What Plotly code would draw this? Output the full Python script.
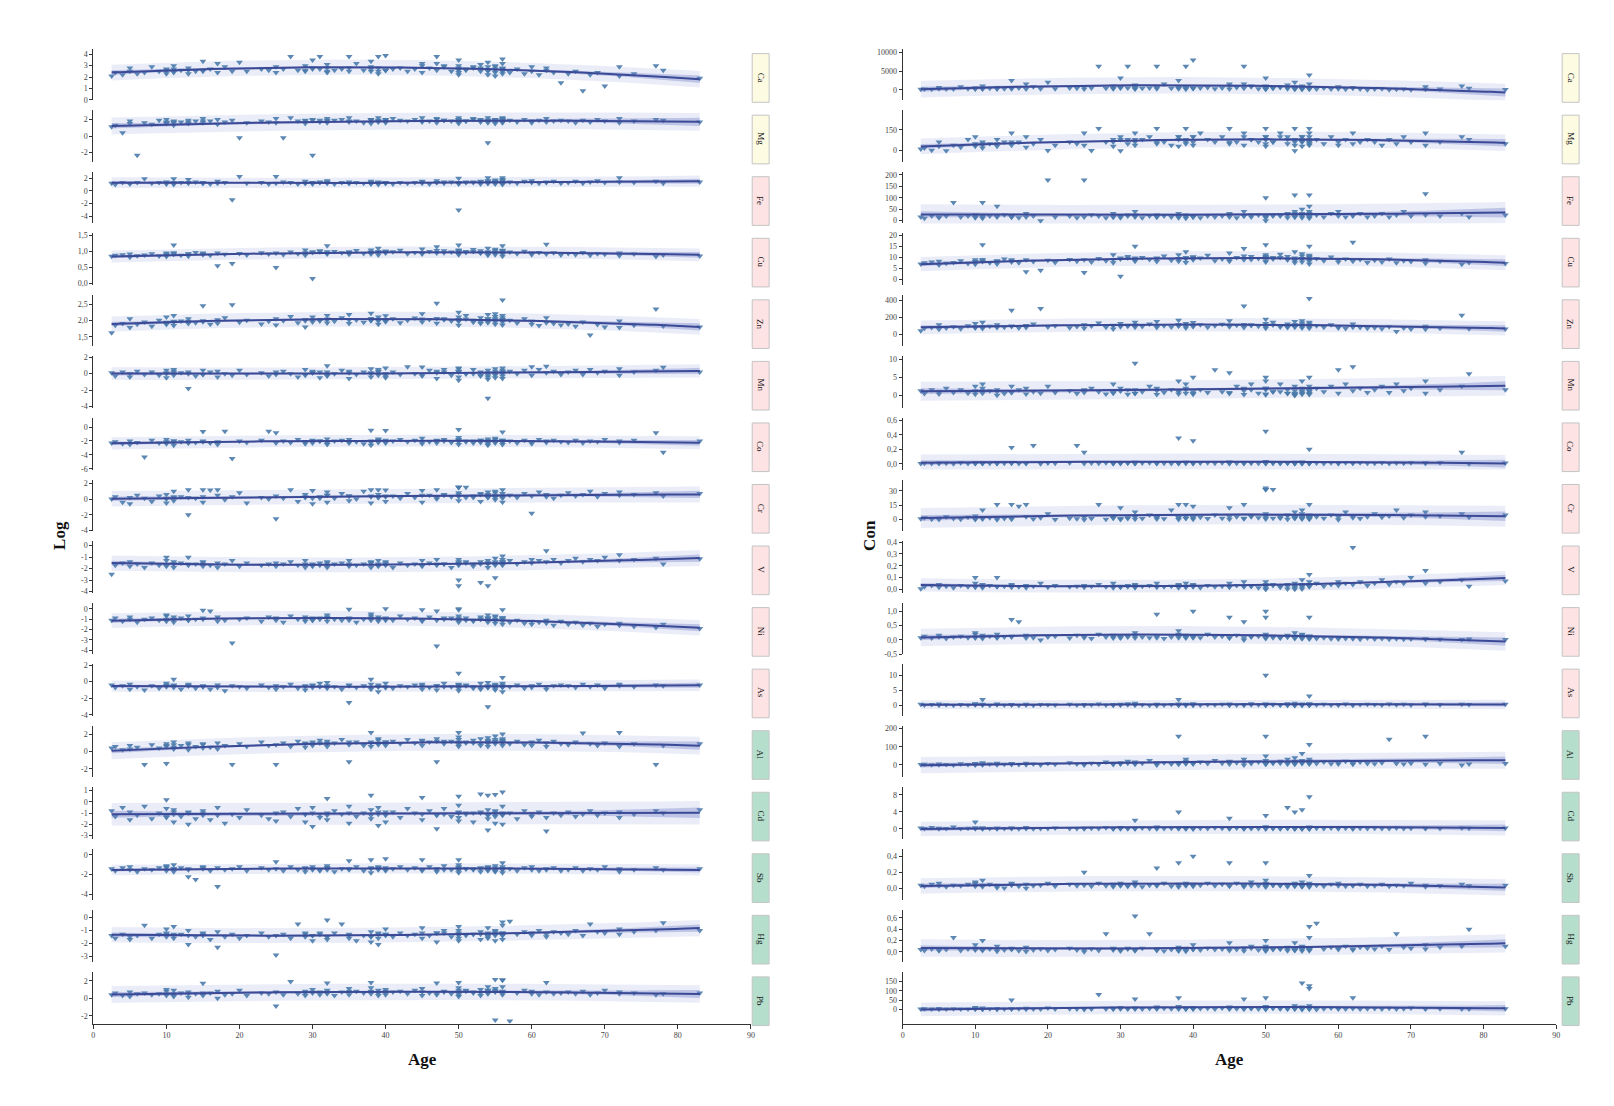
import numpy as np
import plotly.graph_objects as go

# element order (top to bottom) and strip colour group
elements = ["Ca", "Mg", "Fe", "Cu", "Zn", "Mn", "Co", "Cr",
            "V", "Ni", "As", "Al", "Cd", "Sb", "Hg", "Pb"]
groups = ["macro", "macro", "ess", "ess", "ess", "ess", "ess", "ess",
          "ess", "ess", "ess", "tox", "tox", "tox", "tox", "tox"]
strip_fill = {"macro": "#fdfbe2", "ess": "#fde3e3", "tox": "#b5dfcc"}

# sample ages (one per sample, same samples in every facet)
age = [2.5, 3, 4, 5, 5, 6, 7, 8, 9, 10,
       10, 10, 11, 11, 11, 12, 13, 13, 14, 15,
       15, 16, 17, 17, 18, 19, 20, 21, 23, 24,
       25, 25, 26, 27, 28, 29, 29, 30, 30, 31,
       32, 32, 32, 33, 34, 35, 35, 36, 37, 38,
       38, 38, 39, 39, 39, 40, 40, 41, 42, 43,
       44, 45, 45, 46, 47, 47, 48, 49, 50, 50,
       50, 50, 50, 51, 52, 53, 53, 54, 54, 54,
       54, 55, 55, 55, 55, 56, 56, 56, 56, 56,
       57, 58, 59, 60, 60, 61, 62, 62, 63, 64,
       65, 66, 67, 68, 69, 70, 72, 72, 74, 77,
       78, 83, 56, 55, 54, 50, 40, 11, 32, 47,
       29, 30, 38, 39, 45, 50, 53, 55, 56, 10,
       13, 15, 31, 35, 40, 48, 51, 54, 56, 52]

# log10 concentrations
log_ca = [2.1, 2.4, 2.2, 2.5, 2.8, 2.3, 2.4, 2.9, 2.5, 2.6,
          2.3, 2.7, 2.5, 3.0, 2.4, 2.6, 2.3, 2.8, 2.5, 3.4,
          2.6, 2.7, 3.2, 2.4, 2.9, 2.5, 3.3, 2.5, 2.7, 2.6,
          2.9, 2.4, 2.7, 3.8, 2.6, 3.0, 2.5, 2.7, 3.5, 3.8,
          2.8, 2.4, 3.1, 2.6, 2.7, 3.8, 2.5, 3.2, 2.6, 2.9,
          3.4, 2.5, 2.8, 3.8, 2.3, 2.6, 3.9, 2.7, 2.8, 2.5,
          2.7, 3.0, 2.4, 2.8, 3.8, 2.6, 2.9, 2.5, 3.5, 2.2,
          2.7, 3.0, 2.4, 2.6, 2.8, 3.1, 2.5, 2.2, 2.9, 3.3,
          2.6, 2.4, 3.0, 2.7, 2.1, 2.8, 3.2, 2.5, 2.3, 3.6,
          2.4, 2.7, 2.3, 2.5, 2.9, 2.2, 2.6, 2.8, 2.4, 1.5,
          2.3, 2.5, 0.8, 2.2, 2.4, 1.2, 2.9, 2.1, 2.3, 3.0,
          2.6, 1.9, 2.7, 2.9, 2.5, 2.8, 2.6, 2.7, 2.5, 3.2,
          2.6, 2.8, 2.7, 2.5, 3.2, 2.6, 2.8, 2.6, 2.7, 2.5,
          2.6, 2.5, 2.7, 2.8, 2.6, 3.0, 2.7, 2.6, 2.5, 2.9]
log_mg = [1.1, 1.3, 0.4, 1.5, 1.8, -2.3, 1.6, 1.4, 1.9, 1.7,
          1.5, 2.0, 1.6, 1.8, 1.3, 1.7, 1.9, 1.5, 1.8, 2.1,
          1.6, 1.8, 1.4, 2.0, 1.7, 1.9, -0.2, 1.6, 1.8, 1.7,
          2.1, 1.6, -0.2, 2.2, 1.8, 1.9, 1.5, -2.3, 2.0, 1.7,
          2.1, 1.8, 1.6, 1.9, 2.0, 1.7, 2.2, 1.8, 1.6, 2.0,
          1.9, 1.5, 2.2, 1.8, 1.7, 2.0, 1.6, 2.1, 1.9, 1.8,
          2.0, 1.7, 2.2, 1.8, 2.1, 1.6, 1.9, 1.8, 2.2, 1.7,
          2.0, 1.5, 1.9, 1.8, 2.1, 1.7, 2.0, -0.8, 1.9, 2.2,
          1.6, 1.8, 2.0, 1.5, 1.9, 2.1, 1.7, 1.8, 2.2, 1.6,
          1.9, 1.7, 2.0, 1.8, 1.6, 1.9, 2.1, 1.7, 1.8, 1.9,
          1.8, 1.6, 1.9, 1.7, 2.0, 1.8, 2.1, 1.6, 1.8, 2.0,
          1.9, 1.7, 1.9, 2.0, 1.8, 1.9, 1.8, 1.7, 1.9, 2.0,
          1.8, 1.9, 2.0, 1.9, 1.8, 2.0, 1.9, 1.8, 2.0, 1.6,
          1.7, 1.8, 1.9, 1.8, 2.0, 1.9, 1.8, 1.9, 1.8, 2.0]
log_fe = [1.2, 1.0, 1.3, 1.2, 1.1, 1.3, 1.9, 1.2, 1.3, 1.4,
          1.1, 1.3, 1.9, 1.2, 1.0, 1.3, 1.8, 1.2, 1.4, 1.2,
          1.3, 1.1, 1.5, 1.2, 1.3, -1.4, 2.25, 1.2, 1.3, 1.1,
          2.25, 1.2, 1.4, 1.3, 1.1, 1.5, 1.2, 1.3, 1.1, 1.4,
          1.6, 1.2, 1.3, 1.1, 1.3, 1.4, 1.2, 1.3, 1.2, 1.5,
          1.1, 1.3, 1.2, 1.4, 1.0, 1.3, 1.2, 1.1, 1.3, 1.2,
          1.3, 1.2, 1.5, 1.1, 1.3, 1.6, 1.2, 1.4, 2.0, 1.1,
          1.3, -3.0, 1.2, 1.4, 1.3, 1.5, 1.1, 2.05, 1.3, 1.6,
          1.2, 1.4, 1.1, 1.7, 1.3, 2.05, 1.2, 1.5, 1.0, 1.3,
          1.4, 1.2, 1.5, 1.3, 1.6, 1.2, 1.4, 1.3, 1.5, 1.2,
          1.3, 1.5, 1.2, 1.4, 1.6, 1.3, 2.07, 1.4, 1.3, 1.5,
          1.2, 1.4, 1.3, 1.4, 1.2, 1.3, 1.2, 1.3, 1.4, 1.3,
          1.2, 1.3, 1.2, 1.3, 1.4, 1.3, 1.4, 1.5, 1.8, 1.2,
          1.3, 1.2, 1.3, 1.2, 1.3, 1.4, 1.3, 1.5, 1.6, 1.4]
log_cu = [0.85, 0.88, 0.90, 0.82, 0.92, 0.87, 0.89, 0.93, 0.86, 0.95,
          0.90, 0.84, 1.20, 0.91, 0.96, 0.88, 0.92, 0.85, 0.97, 0.90,
          0.93, 0.88, 0.55, 0.95, 0.91, 0.62, 0.94, 0.89, 0.96, 0.92,
          0.50, 0.95, 0.90, 0.98, 0.93, 1.05, 0.88, 0.15, 0.97, 1.02,
          1.18, 0.95, 0.92, 1.00, 0.96, 0.99, 0.91, 1.03, 0.94, 0.98,
          1.05, 0.92, 1.10, 0.97, 0.89, 1.01, 0.95, 0.99, 1.04, 0.93,
          0.97, 1.08, 0.92, 1.00, 1.15, 0.95, 1.02, 0.98, 1.20, 0.90,
          1.05, 0.93, 1.00, 0.97, 1.06, 0.95, 1.02, 0.88, 1.10, 0.99,
          0.94, 1.03, 0.90, 0.97, 1.07, 1.18, 0.92, 1.00, 0.85, 0.96,
          0.98, 0.93, 1.01, 0.95, 0.90, 0.97, 1.23, 0.92, 0.96, 0.89,
          0.94, 0.90, 0.97, 0.88, 0.93, 0.91, 0.95, 0.87, 0.92, 0.84,
          0.89, 0.86, 1.02, 0.97, 0.95, 1.01, 0.98, 0.93, 0.99, 1.03,
          0.96, 0.99, 0.97, 1.00, 0.95, 1.02, 0.96, 0.98, 1.04, 0.91,
          0.93, 0.95, 0.99, 0.97, 1.01, 0.96, 1.00, 0.94, 0.97, 1.00]
log_zn = [1.62, 1.85, 1.90, 1.78, 2.05, 1.88, 1.95, 1.82, 2.00, 1.92,
          1.87, 2.10, 1.95, 2.15, 1.84, 1.98, 1.90, 2.05, 1.93, 2.45,
          1.96, 1.88, 2.02, 1.91, 2.08, 2.48, 1.94, 2.00, 1.89, 1.97,
          2.05, 1.86, 1.99, 2.12, 1.93, 1.80, 2.03, 1.95, 2.10, 1.98,
          2.15, 1.92, 2.04, 1.97, 2.08, 1.90, 2.18, 2.01, 1.94, 2.06,
          1.99, 2.22, 1.88, 2.10, 2.02, 1.96, 2.14, 2.05, 1.93, 2.00,
          2.07, 1.95, 2.20, 2.03, 2.52, 1.91, 2.05, 1.98, 2.25, 1.85,
          2.10, 1.97, 2.03, 2.15, 1.94, 2.08, 1.90, 2.18, 1.99, 2.05,
          1.93, 2.12, 1.88, 2.02, 2.20, 2.62, 1.95, 2.08, 1.86, 2.15,
          2.00, 1.92, 2.05, 1.88, 1.97, 1.84, 2.08, 1.93, 1.90, 1.86,
          1.89, 1.82, 1.95, 1.55, 1.87, 1.80, 1.98, 1.78, 1.85, 2.35,
          1.83, 1.80, 2.00, 1.96, 2.04, 1.98, 2.03, 1.97, 2.01, 2.06,
          1.99, 2.02, 2.00, 1.98, 2.04, 2.01, 1.96, 2.05, 2.00, 1.94,
          1.97, 1.99, 2.03, 2.01, 1.98, 2.02, 2.04, 1.99, 2.03, 2.00]
log_mn = [0.1, -0.3, 0.2, 0.0, -0.4, 0.3, -0.1, 0.2, -0.2, 0.4,
          0.0, -0.5, 0.3, -0.2, 0.5, 0.1, -1.8, 0.2, -0.3, 0.4,
          -0.1, 0.2, -0.4, 0.3, 0.0, -0.2, 0.4, -0.1, 0.1, -0.3,
          0.2, -0.1, 0.3, 0.0, -0.4, 0.5, -0.2, 0.1, 0.3, -0.5,
          0.95, -0.3, 0.2, 0.0, 0.4, -0.6, 0.3, -0.1, 0.2, 0.6,
          -0.4, 0.1, 0.5, -0.2, 0.3, 0.7, -0.5, 0.2, -0.1, 0.85,
          0.0, 0.8, -0.3, 0.4, 0.1, -0.6, 0.5, -0.2, 0.6, -0.8,
          0.3, -0.4, 0.7, 0.0, 0.5, -0.3, 0.2, -3.0, 0.4, -0.7,
          0.1, 0.6, -0.5, 0.3, -0.2, 0.7, 0.0, -0.6, 0.4, 0.2,
          0.3, 0.0, 0.4, 0.85, -0.2, 0.5, 0.9, 0.1, 0.3, -0.1,
          0.2, 0.4, -0.1, 0.5, 0.1, 0.3, 0.6, -0.2, 0.2, 0.4,
          0.78, 0.2, -0.3, 0.1, -0.4, 0.2, 0.0, 0.1, -0.2, 0.3,
          -0.1, 0.1, 0.0, 0.2, -0.1, 0.3, -0.2, 0.0, 0.2, 0.1,
          0.0, -0.1, 0.2, 0.1, -0.3, 0.2, 0.0, -0.2, 0.1, 0.0]
log_co = [-2.3, -2.1, -2.4, -2.0, -2.5, -2.2, -4.3, -1.9, -2.3, -2.1,
          -2.4, -1.8, -2.2, -2.0, -2.6, -2.1, -2.3, -1.9, -2.2, -0.65,
          -2.0, -2.3, -2.1, -2.5, -0.6, -4.5, -2.0, -2.2, -1.9, -0.6,
          -0.8, -2.3, -2.0, -2.2, -1.8, -2.4, -2.1, -1.9, -2.3, -2.0,
          -1.7, -2.2, -2.5, -2.0, -1.9, -2.3, -1.8, -2.1, -2.4, -0.45,
          -2.0, -2.6, -1.9, -2.2, -1.7, -0.5, -2.3, -2.0, -1.8, -2.1,
          -1.9, -2.4, -1.6, -2.1, -2.0, -2.3, -1.8, -2.2, -0.35, -2.5,
          -1.8, -2.1, -1.5, -2.0, -2.3, -1.9, -2.2, -1.7, -2.4, -2.0,
          -2.6, -1.8, -2.1, -1.6, -2.3, -0.7, -2.0, -2.5, -1.9, -2.2,
          -2.0, -2.3, -1.9, -2.1, -2.4, -1.8, -2.2, -2.0, -1.9, -2.1,
          -2.2, -1.9, -2.3, -2.0, -2.1, -1.8, -2.2, -2.0, -1.9, -0.8,
          -3.6, -2.0, -2.1, -2.0, -2.2, -1.9, -2.1, -2.0, -2.2, -1.9,
          -2.1, -2.0, -2.2, -1.9, -2.1, -2.0, -1.9, -2.1, -2.0, -2.2,
          -2.2, -2.1, -2.0, -2.1, -1.9, -2.0, -2.1, -2.0, -1.9, -2.0]
log_cr = [0.0, 0.3, -0.4, 0.2, -0.6, 0.5, 0.1, -0.3, 0.4, 0.0,
          0.6, -0.5, 0.2, 1.0, -0.2, 0.3, -2.0, 1.2, 0.1, 1.2,
          -0.4, 1.15, 0.5, 1.2, -0.1, 0.3, 0.8, -0.5, 0.2, 0.0,
          -2.5, 0.4, 0.1, 1.2, -0.3, 0.6, 0.2, -0.6, 1.1, 0.3,
          0.5, -0.4, 0.9, 0.1, 0.7, -0.2, 0.4, 0.0, 1.0, 1.2,
          0.3, -0.5, 1.2, 0.2, 0.6, 1.15, -0.3, 0.4, 0.1, 0.7,
          0.2, 1.1, -0.4, 0.5, 1.2, 0.0, 0.6, 0.3, 1.5, 1.52,
          1.5, -0.2, 0.8, 1.5, 0.4, 0.7, -0.3, 0.5, 0.9, 0.2,
          0.6, -0.1, 0.8, 0.3, 1.0, 1.2, 0.4, -0.4, 0.7, 0.1,
          0.5, 0.2, 0.7, -1.8, 0.4, 0.9, 0.3, 0.6, 0.1, 0.5,
          0.8, 0.4, 0.6, 1.0, 0.3, 0.7, 0.9, 0.5, 0.6, 0.8,
          0.4, 0.7, 0.3, 0.5, 0.2, 0.6, 0.4, 0.3, 0.5, 0.2,
          0.3, 0.1, 0.4, 0.2, 0.5, 0.3, 0.6, 0.2, 0.4, 0.1,
          0.2, 0.3, 0.1, 0.4, 0.3, 0.5, 0.2, 0.4, 0.3, 0.2]
log_v = [-2.5, -1.7, -1.5, -1.8, -1.4, -1.6, -1.9, -1.5, -1.7, -1.3,
         -1.8, -1.0, -1.6, -1.4, -1.9, -1.5, -1.0, -1.7, -1.6, -1.8,
         -1.4, -1.7, -1.5, -1.9, -1.6, -1.3, -1.8, -1.5, -1.7, -1.6,
         -1.5, -1.8, -1.6, -1.4, -1.7, -1.9, -1.3, -1.6, -1.8, -1.5,
         -1.7, -1.4, -1.9, -1.6, -1.5, -1.8, -1.3, -1.7, -1.6, -1.4,
         -1.9, -1.5, -1.7, -1.3, -1.8, -1.6, -1.4, -1.9, -1.5, -1.7,
         -1.6, -1.3, -1.8, -1.5, -1.7, -1.2, -1.6, -1.9, -3.5, -1.4,
         -1.7, -1.2, -3.0, -1.5, -1.8, -1.4, -3.2, -1.6, -1.3, -3.5,
         -1.9, -1.5, -1.1, -2.8, -1.6, -0.9, -1.4, -1.7, -1.2, -1.5,
         -1.3, -1.6, -1.4, -1.2, -1.5, -1.3, -0.45, -1.4, -1.2, -1.5,
         -1.3, -1.1, -1.4, -1.2, -1.3, -1.0, -0.8, -1.3, -1.2, -1.1,
         -1.6, -1.15, -1.6, -1.7, -1.5, -1.6, -1.7, -1.6, -1.5, -1.6,
         -1.6, -1.7, -1.5, -1.6, -1.7, -1.5, -1.6, -1.4, -1.5, -1.7,
         -1.6, -1.5, -1.7, -1.6, -1.5, -1.6, -1.4, -1.5, -1.4, -1.6]
log_ni = [-1.1, -0.9, -1.2, -1.0, -0.8, -1.3, -1.0, -0.9, -1.1, -0.7,
          -1.2, -0.6, -1.0, -0.8, -1.3, -0.9, -1.1, -0.7, -1.0, -0.15,
          -0.9, -0.2, -1.2, -0.8, -1.1, -3.3, -1.0, -0.9, -1.2, -0.8,
          -1.1, -0.9, -1.3, -0.7, -1.0, -1.2, -0.8, -1.1, -0.9, -1.0,
          -0.8, -1.2, -0.6, -1.0, -1.1, -0.05, -0.9, -1.3, -1.0, -0.7,
          -1.1, -0.5, -1.0, -0.8, -1.2, 0.0, -0.9, -1.1, -0.7, -1.0,
          -0.9, -0.1, -1.2, -0.8, -3.6, -0.2, -1.0, -0.9, 0.0, -1.3,
          -0.7, -1.1, -0.1, -0.9, -1.2, -0.8, -1.0, -0.6, -1.3, -0.9,
          -1.1, -0.7, -1.0, -1.4, -0.8, -0.1, -1.2, -0.9, -1.5, -1.0,
          -1.3, -1.1, -1.4, -1.2, -1.5, -1.3, -1.1, -1.4, -1.6, -1.2,
          -1.5, -1.3, -1.6, -1.4, -1.7, -1.5, -1.4, -1.6, -1.7, -1.8,
          -1.5, -1.9, -1.0, -1.1, -0.9, -1.0, -1.1, -1.0, -0.9, -1.1,
          -1.0, -1.1, -0.9, -1.0, -1.1, -0.9, -1.0, -1.1, -0.9, -1.0,
          -1.1, -1.0, -0.9, -1.1, -1.0, -0.9, -1.1, -1.0, -0.9, -1.1]
log_as = [-0.4, -0.7, -0.5, -0.9, -0.3, -0.6, -1.0, -0.5, -0.8, -0.4,
          -0.6, -0.2, 0.3, -0.7, -0.4, -0.9, -0.5, -0.3, -0.8, -0.6,
          -0.5, -0.9, -0.4, -0.7, -1.1, -0.5, -0.6, -0.8, -0.4, -0.7,
          -0.9, -0.5, -0.6, -0.3, -0.8, -0.5, -1.0, -0.4, -0.7, -0.2,
          -0.5, -0.8, -0.1, -0.6, -0.9, -2.5, -0.4, -0.7, -0.5, 0.3,
          -0.9, -0.3, -0.6, -1.2, -0.4, -0.7, -0.2, -0.8, -0.5, -0.6,
          -0.4, -0.9, -0.3, -0.7, -0.5, -1.0, -0.2, -0.6, 1.0, -0.8,
          -0.3, -1.1, -0.5, -0.4, -0.8, -0.2, -0.9, -3.0, -0.5, -0.1,
          -0.7, -0.3, -1.0, -0.5, -0.8, 0.5, -0.4, -1.2, -0.6, -0.2,
          -0.6, -0.4, -0.8, -0.5, -0.7, -0.3, -0.6, -0.9, -0.5, -0.4,
          -0.5, -0.7, -0.3, -0.6, -0.4, -0.8, -0.5, -0.3, -0.6, -0.4,
          -0.5, -0.4, -0.6, -0.5, -0.7, -0.4, -0.6, -0.5, -0.6, -0.5,
          -0.6, -0.5, -0.7, -0.6, -0.5, -0.6, -0.7, -0.5, -0.6, -0.5,
          -0.5, -0.6, -0.6, -0.5, -0.7, -0.6, -0.5, -0.6, -0.7, -0.6]
log_al = [0.4, 0.6, 0.2, 0.7, 0.3, 0.5, -1.5, 0.8, 0.4, -1.4,
          0.6, 0.9, 0.3, 1.1, 0.5, 0.7, 0.2, 1.0, 0.6, 0.4,
          0.8, 0.5, 1.0, 0.3, 0.7, -1.5, 0.9, 0.6, 1.1, 0.7,
          -1.5, 0.8, 1.0, 0.6, 1.2, 0.9, 0.5, 1.1, 0.7, 1.3,
          0.9, 1.2, 0.6, 1.0, 1.4, -1.2, 0.8, 1.1, 0.7, 2.2,
          1.0, 0.6, 1.3, 0.8, 1.5, 1.1, 0.7, 1.2, 0.9, 1.4,
          1.0, 1.3, 0.7, 1.1, -1.2, 1.5, 0.9, 1.2, 2.2, 0.6,
          1.4, 0.8, 1.7, 1.0, 1.3, 0.7, 1.5, 1.1, 0.9, 1.6,
          0.6, 1.2, 1.8, 0.9, 1.4, 2.05, 1.0, 0.7, 1.5, 1.1,
          0.9, 1.2, 0.8, 1.1, 0.7, 1.3, 1.0, 0.6, 1.2, 0.9,
          0.8, 1.1, 2.15, 0.9, 0.7, 1.0, 2.2, 0.6, 0.9, -1.5,
          0.7, 0.9, 1.3, 1.1, 1.2, 1.0, 1.1, 0.8, 1.0, 1.2,
          1.0, 0.9, 1.1, 1.0, 1.2, 1.1, 1.0, 1.2, 1.3, 0.7,
          0.8, 0.9, 1.0, 1.1, 1.0, 1.2, 1.1, 1.3, 1.2, 1.0]
log_cd = [-0.8, -1.3, -0.5, -1.6, -0.9, -1.2, -0.4, -1.5, -1.0, 0.2,
          -1.4, -0.6, -1.1, -1.8, -0.7, -1.3, -2.0, -0.9, -1.5, -1.0,
          -0.8, -1.6, -1.2, -0.5, -1.9, -1.1, -1.4, -0.7, -1.2, -1.5,
          -1.0, -1.7, -0.9, -1.3, -0.6, -1.8, -1.1, -0.5, -2.2, -1.4,
          0.3, -1.2, -1.6, -0.8, -1.1, -1.9, -0.4, -1.3, -1.0, 0.6,
          -1.5, -0.7, -1.1, -2.1, -0.5, -1.2, -1.8, -0.9, -1.4, -0.6,
          -1.0, 0.4, -1.6, -0.8, -1.2, -2.4, -0.6, -1.3, 0.5, -1.7,
          -0.9, -1.4, -0.3, -1.1, -1.8, 0.7, -1.0, 0.6, -1.5, -2.5,
          -0.7, 0.65, -1.3, -0.8, -1.9, 0.88, -1.1, -0.4, -2.0, -1.2,
          -1.0, -1.5, -0.8, -1.3, -1.1, -0.9, -1.4, -2.6, -1.0, -1.2,
          -0.9, -1.3, -1.1, -0.8, -1.2, -1.0, -1.4, -0.9, -1.1, -0.8,
          -1.0, -0.7, -1.1, -0.9, -1.2, -1.0, -1.1, -0.9, -1.0, -1.2,
          -1.1, -1.0, -1.2, -0.9, -1.1, -1.0, -0.9, -1.1, -1.0, -1.3,
          -1.0, -1.2, -1.1, -1.0, -0.9, -1.1, -1.0, -1.2, -1.1, -1.0]
log_sb = [-1.4, -1.6, -1.3, -1.5, -1.2, -1.7, -1.4, -1.5, -1.3, -1.1,
          -1.6, -1.2, -1.4, -1.0, -1.7, -1.3, -2.2, -1.5, -2.5, -1.4,
          -1.2, -1.6, -3.2, -1.3, -1.5, -1.4, -1.2, -1.6, -1.3, -1.5,
          -0.7, -1.4, -1.6, -1.2, -1.5, -1.3, -1.7, -1.4, -1.2, -1.6,
          -1.3, -1.5, -1.1, -1.7, -1.4, -0.6, -1.5, -1.2, -1.6, -0.5,
          -1.4, -1.8, -1.2, -1.5, -1.3, -0.4, -1.6, -1.4, -1.2, -1.5,
          -1.3, -0.5, -1.6, -1.2, -1.4, -1.7, -1.1, -1.5, -0.5, -1.8,
          -1.2, -1.6, -1.0, -1.4, -1.5, -1.3, -1.7, -1.2, -1.6, -1.4,
          -1.5, -1.1, -1.7, -1.3, -1.6, -0.8, -1.4, -1.8, -1.2, -1.5,
          -1.4, -1.6, -1.3, -1.5, -1.2, -1.6, -1.4, -1.5, -1.3, -1.6,
          -1.5, -1.3, -1.6, -1.4, -1.5, -1.2, -1.7, -1.4, -1.5, -1.3,
          -1.5, -1.4, -1.4, -1.5, -1.3, -1.4, -1.5, -1.4, -1.3, -1.5,
          -1.4, -1.5, -1.3, -1.4, -1.5, -1.3, -1.4, -1.5, -1.4, -1.3,
          -1.4, -1.3, -1.5, -1.4, -1.3, -1.5, -1.4, -1.3, -1.5, -1.4]
log_hg = [-1.4, -1.6, -1.3, -1.7, -1.5, -1.4, -0.6, -1.6, -1.3, -1.2,
          -1.5, -0.9, -1.4, -0.7, -1.6, -1.3, -2.1, -1.0, -1.5, -1.2,
          -1.4, -1.7, -2.3, -1.1, -1.5, -1.3, -1.6, -1.4, -1.2, -1.5,
          -2.9, -1.4, -1.3, -1.6, -0.5, -1.5, -1.2, -1.8, -1.4, -1.3,
          -0.2, -1.5, -1.7, -1.2, -0.5, -1.6, -1.3, -1.8, -1.4, -1.1,
          -1.5, -1.9, -1.2, -1.6, -2.1, -1.3, -0.9, -1.5, -1.2, -1.4,
          -1.3, -1.6, -0.8, -1.4, -1.2, -1.9, -1.0, -1.5, -0.7, -1.8,
          -1.2, -1.6, -1.0, -1.4, -1.3, -1.1, -1.7, -1.5, -0.8, -1.4,
          -1.6, -1.1, -1.3, -1.8, -1.0, -0.35, -1.4, -1.2, -1.7, -0.6,
          -0.3, -1.3, -1.1, -1.4, -1.2, -1.0, -1.3, -1.5, -1.1, -1.2,
          -1.3, -1.0, -1.4, -0.5, -1.1, -1.2, -0.9, -1.3, -1.1, -1.0,
          -0.4, -1.0, -1.3, -1.4, -1.2, -1.3, -1.4, -1.3, -1.5, -1.2,
          -1.3, -1.4, -1.5, -1.3, -1.2, -1.4, -1.3, -1.2, -1.4, -1.3,
          -1.4, -1.3, -1.2, -1.4, -1.3, -1.2, -1.3, -1.4, -1.2, -1.3]
log_pb = [0.4, 0.6, 0.3, 0.7, 0.2, 0.5, 0.6, 0.4, 0.5, 0.3,
          0.8, 1.0, 0.4, 0.9, 0.2, 0.6, 0.1, 0.7, 0.5, 1.7,
          0.3, 0.6, 0.0, 0.8, 0.4, 0.5, 0.9, 0.3, 0.6, 0.5,
          -0.9, 0.7, 0.4, 1.9, 0.5, 0.8, 0.3, 0.6, 1.0, 0.4,
          1.75, 0.5, 0.9, 0.3, 0.7, 1.1, 0.4, 0.8, 0.6, 1.8,
          0.5, 1.2, 0.3, 0.9, 0.6, 1.0, 0.4, 0.7, 0.8, 0.5,
          0.9, 0.3, 1.1, 0.6, 1.75, 0.4, 0.8, 0.5, 1.8, 0.2,
          0.7, 1.2, 0.4, 0.9, 0.6, 1.0, 0.3, 0.8, 1.3, 0.5,
          0.6, 2.15, -2.5, 0.9, 1.1, 2.1, 0.4, 2.05, 0.7, 1.3,
          -2.6, 0.6, 0.9, 0.5, 0.8, 0.4, 1.8, 0.7, 0.5, 0.6,
          0.7, 0.5, 0.8, 0.4, 0.6, 0.9, 0.5, 0.7, 0.6, 0.4,
          0.5, 0.6, 0.8, 0.7, 0.9, 0.6, 0.8, 0.5, 0.7, 0.6,
          0.6, 0.7, 0.8, 0.6, 0.7, 0.9, 0.6, 0.8, 0.7, 0.5,
          0.5, 0.6, 0.7, 0.8, 0.6, 0.7, 0.8, 0.9, 0.6, 0.7]

log_values = [log_ca, log_mg, log_fe, log_cu, log_zn, log_mn, log_co, log_cr,
              log_v, log_ni, log_as, log_al, log_cd, log_sb, log_hg, log_pb]

# axis ranges / tick values per facet
log_ranges = [[-0.05, 4.5], [-3.1, 3.1], [-5.1, 3.0], [-0.05, 1.57],
              [1.2, 2.78], [-4.2, 2.1], [-6.1, 1.3], [-4.1, 2.5],
              [-4.1, 0.4], [-4.4, 0.6], [-4.1, 2.1], [-3.0, 3.0],
              [-3.3, 1.3], [-4.6, 0.6], [-3.45, 0.55], [-2.9, 3.0]]
log_ticks = [[0, 1, 2, 3, 4], [-2, 0, 2], [-4, -2, 0, 2], [0, 0.5, 1, 1.5],
             [1.5, 2, 2.5], [-4, -2, 0, 2], [-6, -4, -2, 0], [-4, -2, 0, 2],
             [-4, -3, -2, -1, 0], [-4, -3, -2, -1, 0], [-4, -2, 0, 2], [-2, 0, 2],
             [-3, -2, -1, 0, 1], [-4, -2, 0], [-3, -2, -1, 0], [-2, 0, 2]]
con_ranges = [[-2800, 11000], [-80, 290], [-12, 214], [-2.5, 21],
              [-140, 460], [-3.5, 10.8], [-0.08, 0.63], [-12, 42],
              [-0.03, 0.41], [-0.5, 1.3], [-3.4, 13.7], [-68, 216],
              [-2.4, 9.8], [-0.15, 0.49], [-0.18, 0.73], [-75, 200]]
con_ticks = [[0, 5000, 10000], [0, 150], [0, 50, 100, 150, 200], [0, 5, 10, 15, 20],
             [0, 200, 400], [0, 5, 10], [0, 0.2, 0.4, 0.6], [0, 15, 30],
             [0, 0.1, 0.2, 0.3, 0.4], [-0.5, 0, 0.5, 1], [0, 5, 10], [0, 100, 200],
             [0, 4, 8], [0, 0.2, 0.4], [0, 0.2, 0.4, 0.6], [0, 50, 100, 150]]
age_ticks = [0, 10, 20, 30, 40, 50, 60, 70, 80, 90]

W, H = 1614, 1106
SERIF = "Liberation Serif"
PT_COLOR = "#4a7bab"
LINE_COLOR = "#3b4a96"

for v in log_values:
    assert len(v) == len(age)

x_arr = np.array(age, dtype=float)
grid = np.linspace(x_arr.min(), x_arr.max(), 120)


def smooth(y):
    # quadratic trend with confidence and prediction bands
    X = np.vander(x_arr, 3)
    beta = np.linalg.lstsq(X, y, rcond=None)[0]
    res = y - X @ beta
    s2 = res @ res / (len(y) - 3)
    cov = s2 * np.linalg.inv(X.T @ X)
    G = np.vander(grid, 3)
    fit = G @ beta
    se = np.sqrt(np.einsum("ij,jk,ik->i", G, cov, G))
    pe = np.sqrt(s2 + se ** 2)
    return fit, fit - 1.96 * se, fit + 1.96 * se, fit - 1.64 * pe, fit + 1.64 * pe


def fmt(ticks):
    if all(float(t).is_integer() for t in ticks):
        return [str(int(t)) for t in ticks]
    return [("%.1f" % t).replace(".", ",") for t in ticks]


def px_y(p):
    return 1 - p / H


fig = go.Figure()
panels = [
    dict(xa="x", xdom=(91.7, 751.7), strip=(753, 770), vals=log_values,
         ranges=log_ranges, ticks=log_ticks, title="Log", tx=57, ax0=0),
    dict(xa="x2", xdom=(904, 1560), strip=(1566, 1583),
         vals=[list(10 ** np.array(v)) for v in log_values],  # Con = 10**Log
         ranges=con_ranges, ticks=con_ticks, title="Con", tx=870, ax0=16),
]

for p in panels:
    for i, el in enumerate(elements):
        n = p["ax0"] + i + 1
        ya = "y" if n == 1 else "y%d" % n
        y = np.array(p["vals"][i], dtype=float)
        fit, clo, chi, plo, phi = smooth(y)
        fig.add_trace(go.Scatter(
            x=list(grid) + list(grid[::-1]), y=list(phi) + list(plo[::-1]),
            fill="toself", fillcolor="rgba(196,202,236,0.35)", line=dict(width=0),
            mode="lines", xaxis=p["xa"], yaxis=ya, hoverinfo="skip", showlegend=False))
        fig.add_trace(go.Scatter(
            x=age, y=y, mode="markers", xaxis=p["xa"], yaxis=ya, showlegend=False,
            marker=dict(symbol="triangle-down", size=6, color=PT_COLOR, opacity=0.9,
                        line=dict(width=0))))
        fig.add_trace(go.Scatter(
            x=list(grid) + list(grid[::-1]), y=list(chi) + list(clo[::-1]),
            fill="toself", fillcolor="rgba(110,120,195,0.35)", line=dict(width=0),
            mode="lines", xaxis=p["xa"], yaxis=ya, hoverinfo="skip", showlegend=False))
        fig.add_trace(go.Scatter(
            x=grid, y=fit, mode="lines", line=dict(color=LINE_COLOR, width=2),
            xaxis=p["xa"], yaxis=ya, showlegend=False))

        top = 46 + 62 * i
        bot = top + 52
        key = "yaxis" if n == 1 else "yaxis%d" % n
        fig.layout[key] = dict(
            domain=[px_y(bot), px_y(top)], anchor=p["xa"], range=p["ranges"][i],
            tickvals=p["ticks"][i], ticktext=fmt(p["ticks"][i]),
            showgrid=False, zeroline=False, showline=True, linecolor="#333",
            linewidth=1, ticks="outside", ticklen=3, tickcolor="#333",
            tickfont=dict(family=SERIF, size=8, color="#444"))

        # facet strip on the right
        fig.add_shape(type="rect", xref="paper", yref="paper",
                      x0=p["strip"][0] / W, x1=p["strip"][1] / W,
                      y0=px_y(bot + 2), y1=px_y(top + 5),
                      fillcolor=strip_fill[groups[i]], line=dict(color="#c4c4c4", width=1))
        fig.add_annotation(x=(p["strip"][0] + p["strip"][1]) / 2 / W,
                           y=px_y((top + bot) / 2 + 3), xref="paper", yref="paper",
                           xanchor="center", yanchor="middle",
                           text=el, showarrow=False, textangle=90,
                           font=dict(family=SERIF, size=9, color="#111"))

    xkey = "xaxis" if p["xa"] == "x" else "xaxis2"
    fig.layout[xkey] = dict(
        domain=[p["xdom"][0] / W, p["xdom"][1] / W], range=[0, 90],
        anchor="y%d" % (p["ax0"] + 16), tickvals=age_ticks,
        showgrid=False, zeroline=False, showline=True, linecolor="#333", linewidth=1,
        ticks="outside", ticklen=4, tickcolor="#333",
        tickfont=dict(family=SERIF, size=8, color="#444"))

    fig.add_annotation(x=p["tx"] / W, y=px_y(536), xref="paper", yref="paper",
                       xanchor="center", yanchor="middle",
                       text="<b>%s</b>" % p["title"], showarrow=False, textangle=-90,
                       font=dict(family=SERIF, size=17, color="#111"))
    fig.add_annotation(x=(p["xdom"][0] + p["xdom"][1]) / 2 / W, y=px_y(1064),
                       xref="paper", yref="paper", xanchor="center", yanchor="middle",
                       text="<b>Age</b>", showarrow=False,
                       font=dict(family=SERIF, size=17, color="#111"))

fig.update_layout(width=W, height=H, margin=dict(l=0, r=0, t=0, b=0),
                  plot_bgcolor="white", paper_bgcolor="white", showlegend=False)

fig.write_html("out.html", config={"displayModeBar": False},
               post_script="document.body.style.margin='0';")
